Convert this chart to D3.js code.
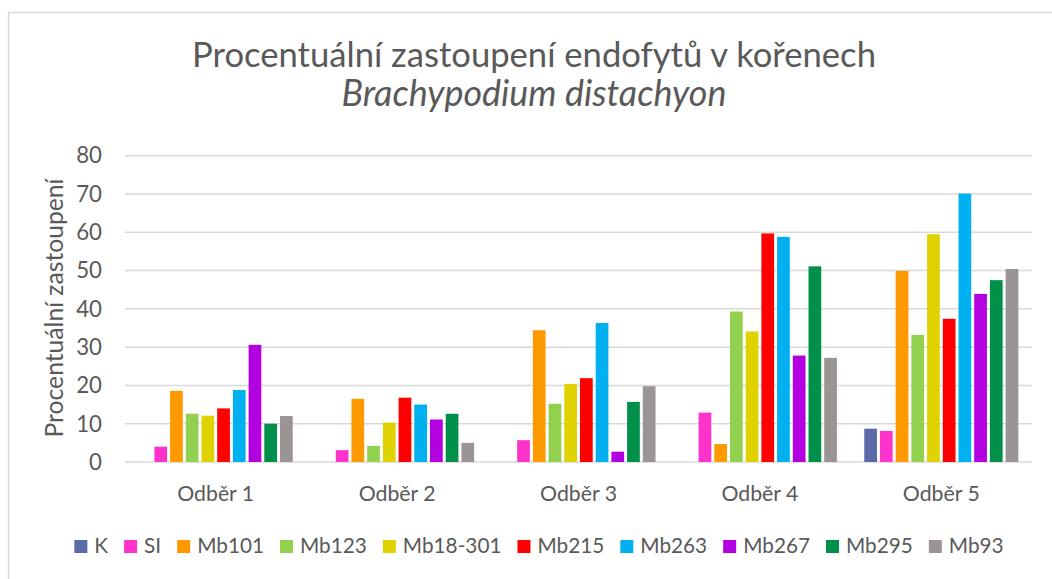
<!DOCTYPE html>
<html>
<head>
<meta charset="utf-8">
<script src="https://cdn.jsdelivr.net/npm/d3@7"></script>
<style>
  html, body { margin: 0; padding: 0; background: #fff; }
  svg { display: block; }
</style>
</head>
<body>
<svg id="chart" width="1052" height="579"></svg>
<script>
// ---- data ----
const categories = ["Odběr 1", "Odběr 2", "Odběr 3", "Odběr 4", "Odběr 5"];
const seriesNames = ["K", "SI", "Mb101", "Mb123", "Mb18-301", "Mb215", "Mb263", "Mb267", "Mb295", "Mb93"];
const seriesColors = ["#5B6BA8", "#FF33CC", "#FF9900", "#92D050", "#E0D200", "#FF0000", "#00B0F0", "#B300E0", "#00904A", "#9A9594"];
const valK      = [0,    0,    0,    0,    8.7];
const valSI     = [4.0,  3.1,  5.7,  12.9, 8.1];
const valMb101  = [18.6, 16.5, 34.4, 4.7,  49.9];
const valMb123  = [12.6, 4.2,  15.2, 39.3, 33.2];
const valMb18   = [12.1, 10.3, 20.4, 34.1, 59.5];
const valMb215  = [14.0, 16.8, 21.9, 59.7, 37.4];
const valMb263  = [18.8, 15.0, 36.3, 58.8, 70.1];
const valMb267  = [30.6, 11.1, 2.7,  27.8, 43.9];
const valMb295  = [10.0, 12.6, 15.7, 51.1, 47.5];
const valMb93   = [12.0, 5.0,  19.8, 27.2, 50.4];
const seriesValues = [valK, valSI, valMb101, valMb123, valMb18, valMb215, valMb263, valMb267, valMb295, valMb93];
const yTicks = [0, 10, 20, 30, 40, 50, 60, 70, 80];
const titleLine1 = "Procentuální zastoupení endofytů v kořenech";
const titleLine2 = "Brachypodium distachyon";
const yTitle = "Procentuální zastoupení";

// ---- layout ----
const svg = d3.select("#chart");
const FONT = "Lato, 'Open Sans', 'DejaVu Sans', sans-serif";
const TXT = "#595959";

function measure(text, size, style) {
  const t = svg.append("text").attr("font-family", FONT).attr("font-size", size)
    .attr("font-style", style || "normal").text(text);
  const w = t.node().getComputedTextLength();
  t.remove();
  return w;
}
function fitSize(text, target, style) {
  return 100 * target / measure(text, 100, style);
}

// border
svg.append("rect").attr("x", 8.5).attr("y", 12.5).attr("width", 1100).attr("height", 600)
  .attr("fill", "#fff").attr("stroke", "#d9d9d9").attr("stroke-width", 1.5);

const plot = { left: 125, right: 1032, top: 155.7, bottom: 462 };

const x0 = d3.scaleBand().domain(categories).range([plot.left, plot.right]).paddingInner(0).paddingOuter(0);
const x1 = d3.scaleBand().domain(seriesNames).range([0, x0.bandwidth()]).paddingInner(0.19).paddingOuter(0.87);
const y = d3.scaleLinear().domain([0, 80]).range([plot.bottom, plot.top]);

// gridlines
svg.append("g").selectAll("line").data(yTicks).join("line")
  .attr("x1", plot.left).attr("x2", plot.right)
  .attr("y1", d => y(d)).attr("y2", d => y(d))
  .attr("stroke", "#d9d9d9").attr("stroke-width", 1.5);

// axis label size
const axisSize = fitSize("Odběr 1", 77);

// y tick labels
svg.append("g").selectAll("text").data(yTicks).join("text")
  .attr("x", 102).attr("y", d => y(d)).attr("dy", "0.35em")
  .attr("text-anchor", "end").attr("font-family", FONT).attr("font-size", axisSize + 1)
  .attr("fill", TXT).text(d => d);

// bars
const groups = svg.append("g").selectAll("g").data(seriesNames).join("g")
  .attr("fill", (d, i) => seriesColors[i]);
groups.selectAll("rect")
  .data((s, i) => categories.map((c, j) => ({ cat: c, s: s, v: seriesValues[i][j] })))
  .join("rect")
  .filter(d => d.v > 0)
  .attr("x", d => x0(d.cat) + x1(d.s))
  .attr("y", d => y(d.v))
  .attr("width", x1.bandwidth())
  .attr("height", d => y(0) - y(d.v));

// x labels
svg.append("g").selectAll("text").data(categories).join("text")
  .attr("x", d => x0(d) + x0.bandwidth() / 2).attr("y", 501)
  .attr("text-anchor", "middle").attr("font-family", FONT).attr("font-size", axisSize)
  .attr("fill", TXT).text(d => d);

// titles
const t1 = fitSize(titleLine1, 684);
svg.append("text").attr("x", 534).attr("y", 67).attr("text-anchor", "middle")
  .attr("font-family", FONT).attr("font-size", t1).attr("fill", TXT).text(titleLine1);
const t2 = fitSize(titleLine2, 385, "italic");
svg.append("text").attr("x", 534).attr("y", 106).attr("text-anchor", "middle")
  .attr("font-family", FONT).attr("font-size", t2).attr("font-style", "italic")
  .attr("fill", TXT).text(titleLine2);

// y title
const ytSize = fitSize(yTitle, 259);
svg.append("text").attr("transform", "translate(63,308) rotate(-90)")
  .attr("text-anchor", "middle").attr("font-family", FONT).attr("font-size", ytSize)
  .attr("fill", TXT).text(yTitle);

// legend
const legSize = fitSize("Mb18-301", 98.7);
const sq = 13, gapSq = 7, spacing = 16;
const widths = seriesNames.map(n => sq + gapSq + measure(n, legSize));
const total = d3.sum(widths) + spacing * (seriesNames.length - 1);
let lx = 539 - total / 2;
const leg = svg.append("g");
seriesNames.forEach((n, i) => {
  leg.append("rect").attr("x", lx).attr("y", 540).attr("width", sq).attr("height", sq)
    .attr("fill", seriesColors[i]);
  leg.append("text").attr("x", lx + sq + gapSq).attr("y", 553)
    .attr("font-family", FONT).attr("font-size", legSize).attr("fill", TXT).text(n);
  lx += widths[i] + spacing;
});
</script>
</body>
</html>
